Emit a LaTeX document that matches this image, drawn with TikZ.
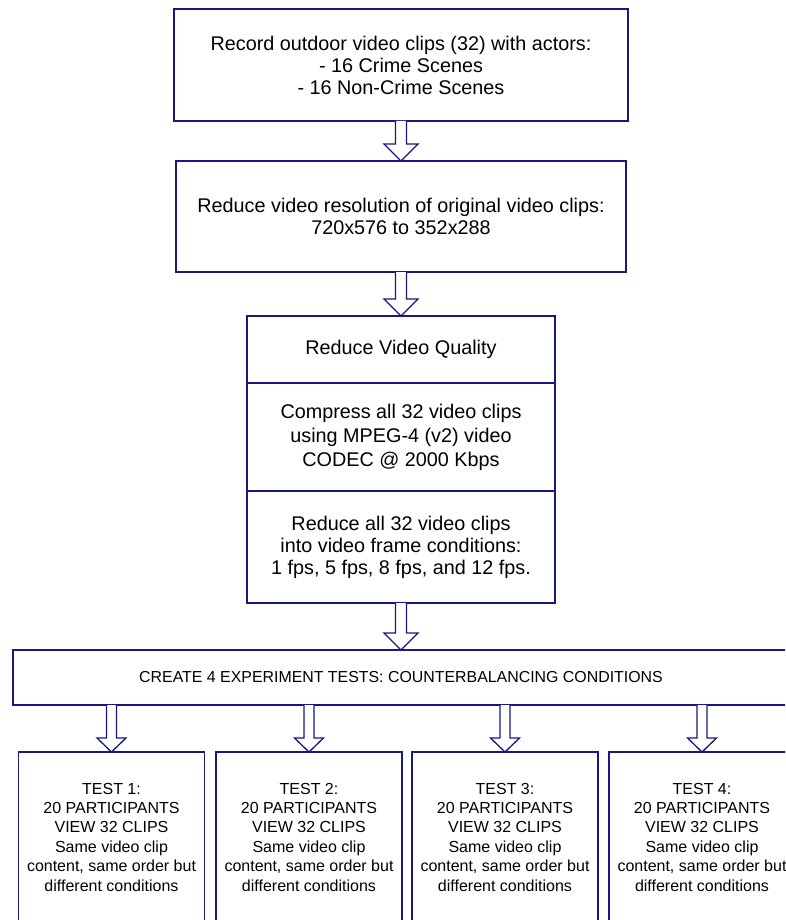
\documentclass[tikz,border=0pt]{standalone}
\usepackage{fontspec}
\setmainfont{Liberation Sans}
\usetikzlibrary{calc}
\definecolor{navyline}{RGB}{24,24,128}

% hollow block arrow from the bottom of one node to the top of another
% #1 source, #2 target, #3 half shaft width, #4 half head width, #5 head length
\newcommand\blockarrow[5]{%
  \draw[arrowline] let \p1=(#2.north), \p2=(#1.south) in
    (\x1-#3,\y2) -- (\x1-#3,\y1+#5) -- (\x1-#4,\y1+#5) -- (\x1,\y1)
    -- (\x1+#4,\y1+#5) -- (\x1+#3,\y1+#5) -- (\x1+#3,\y2);}

\begin{document}
\begin{tikzpicture}[x=1pt,y=-1pt,
  box/.style={draw=navyline, line width=1.3pt, fill=white, align=center,
    inner sep=0pt, outer sep=0pt, font=\fontsize{19.8}{22}\selectfont},
  createbox/.style={box, font=\fontsize{15.9}{18}\selectfont},
  testbox/.style={box, line width=1.4pt, minimum width=186pt, minimum height=170pt,
    font=\fontsize{16}{19.4}\selectfont},
  arrowline/.style={draw=navyline, line width=1.3pt, fill=white, line join=miter}]

\useasboundingbox (0,0) rectangle (785,920);
\clip (0,0) rectangle (785,920);

% main steps
\node[box, minimum width=454pt, minimum height=112pt] (record) at (401,65)
  {Record outdoor video clips (32) with actors:\\- 16 Crime Scenes\\- 16 Non-Crime Scenes};
\node[box, minimum width=450pt, minimum height=111pt] (resolution) at (401,216.5)
  {Reduce video resolution of original video clips:\\720x576 to 352x288};

% stacked quality block
\node[box, minimum width=308pt, minimum height=67pt] (quality) at (401,349.5)
  {Reduce Video Quality};
\node[box, minimum width=308pt, minimum height=108pt] (compress) at (401,437)
  {\raisebox{4pt}{\shortstack{Compress all 32 video clips\\[2.5pt]using MPEG-4 (v2) video\\[2.5pt]CODEC @ 2000 Kbps}}};
\node[box, minimum width=308pt, minimum height=112pt] (frames) at (401,547)
  {Reduce all 32 video clips\\into video frame conditions:\\1 fps, 5 fps, 8 fps, and 12 fps.};

% counterbalancing
\node[createbox, minimum width=776pt, minimum height=55pt] (create) at (401,677.5)
  {CREATE 4 EXPERIMENT TESTS: COUNTERBALANCING CONDITIONS};

% test groups
\foreach \i/\cx in {1/111.5, 2/309, 3/505, 4/702} {
  \node[testbox] (test\i) at (\cx,837)
    {TEST \i:\\20 PARTICIPANTS\\VIEW 32 CLIPS\\Same video clip\\content, same order but\\different conditions};
}

% connectors
\blockarrow{record}{resolution}{5.5pt}{17pt}{17pt}
\blockarrow{resolution}{quality}{5.5pt}{17pt}{17pt}
\blockarrow{frames}{create}{5.5pt}{17pt}{17pt}
\foreach \i in {1,...,4} {
  \blockarrow{create}{test\i}{5pt}{14.5pt}{14pt}
}
\end{tikzpicture}
\end{document}
